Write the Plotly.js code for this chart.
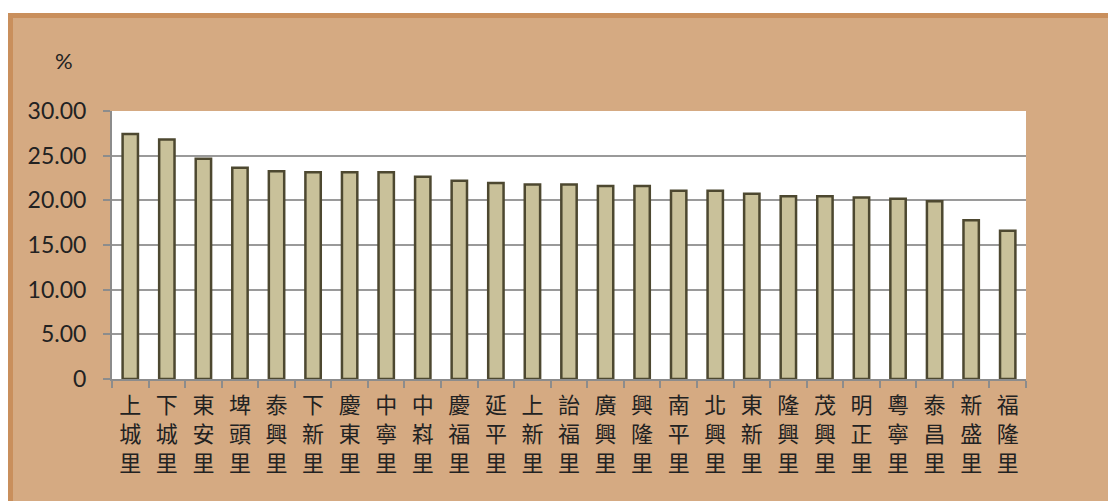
<!DOCTYPE html>
<html>
<head>
<meta charset="utf-8">
<script src="https://cdn.plot.ly/plotly-3.0.1.min.js"></script>
<style>
html,body{margin:0;padding:0;background:#ffffff;width:1108px;height:501px;overflow:hidden;}
#box{position:absolute;left:8px;top:13px;width:1100px;height:488px;background:#d5aa82;border-top:5px solid #c98f5c;border-left:5px solid #c98f5c;box-sizing:border-box;}
#chart{position:absolute;left:0;top:0;width:1108px;height:501px;}
</style>
</head>
<body>
<div id="box"></div>
<div id="chart"></div>
<script>
const villages = ["上城里","下城里","東安里","埤頭里","泰興里","下新里","慶東里","中寧里","中嵙里","慶福里","延平里","上新里","詒福里","廣興里","興隆里","南平里","北興里","東新里","隆興里","茂興里","明正里","粵寧里","泰昌里","新盛里","福隆里"];
const percentages = [27.43,26.80,24.66,23.66,23.25,23.14,23.14,23.14,22.65,22.20,21.94,21.76,21.76,21.60,21.60,21.08,21.08,20.74,20.45,20.45,20.33,20.18,19.89,17.76,16.60];
const yTickVals = [0,5,10,15,20,25,30];
const yTickText = ["0","5.00","10.00","15.00","20.00","25.00","30.00"];

const xLabels = villages.map(s => s.split("").join("<br>"));

const trace = {
  type: "bar",
  x: villages,
  y: percentages,
  marker: {color: "#c9c19a", line: {color: "#4d4830", width: 2.5}},
  hoverinfo: "x+y"
};

const layout = {
  width: 1108, height: 501,
  margin: {l: 112, r: 82, t: 111, b: 122, pad: 0},
  paper_bgcolor: "rgba(0,0,0,0)",
  plot_bgcolor: "#ffffff",
  bargap: 0.58,
  showlegend: false,
  font: {family: "Lato, Liberation Sans, Arial, sans-serif", color: "#222222"},
  xaxis: {
    type: "category",
    tickmode: "array",
    tickvals: villages,
    ticktext: xLabels,
    tickangle: 0,
    tickson: "boundaries",
    ticks: "outside", ticklen: 7, tickwidth: 2, tickcolor: "#8c8c8c",
    ticklabelstandoff: 6,
    showline: true, linecolor: "#8c8c8c", linewidth: 2,
    showgrid: false,
    tickfont: {family: "Noto Sans CJK TC, sans-serif", size: 22, color: "#222222"},
    fixedrange: true
  },
  yaxis: {
    range: [0, 30],
    tickmode: "array",
    tickvals: yTickVals,
    ticktext: yTickText,
    ticks: "outside", ticklen: 7, tickwidth: 2, tickcolor: "#8c8c8c",
    ticklabelstandoff: 12,
    showline: true, linecolor: "#8c8c8c", linewidth: 2,
    showgrid: true, gridcolor: "#9a9a9a", gridwidth: 2,
    zeroline: false,
    tickfont: {family: "Lato, Liberation Sans, Arial, sans-serif", size: 23, color: "#222222"},
    fixedrange: true
  },
  annotations: [{
    text: "%", xref: "paper", yref: "paper",
    x: -0.053, y: 1.19, xanchor: "center", yanchor: "middle",
    showarrow: false,
    font: {family: "Lato, Liberation Sans, Arial, sans-serif", size: 22, color: "#222222"}
  }]
};

Plotly.newPlot("chart", [trace], layout, {displayModeBar: false, staticPlot: true});
</script>
</body>
</html>
